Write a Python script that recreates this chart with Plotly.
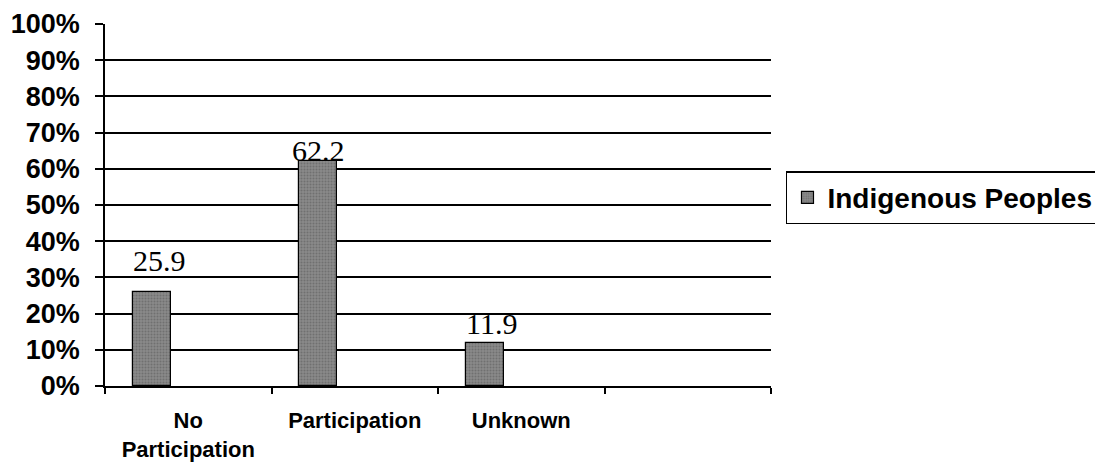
import plotly.graph_objects as go

categories = ["No<br>Participation", "Participation", "Unknown", " "]
values = [25.9, 62.2, 11.9, None]
labels = ["25.9", "62.2", "11.9", ""]
series_name = "Indigenous Peoples"
y_ticks = list(range(0, 101, 10))
y_tick_text = [f"{t}%" for t in y_ticks]

BAR_W = 0.228
BAR_OFF = -0.333
label_shift = [13, -8, 1]
label_xshift = [8, 0, 7]

fig = go.Figure()
fig.add_trace(go.Bar(
    x=categories, y=values, name=series_name,
    width=BAR_W, offset=BAR_OFF,
    marker=dict(color="#7d7d7d", line=dict(color="black", width=1.2),
                pattern=dict(shape=".", fgcolor="#555555", bgcolor="#8a8a8a", size=3, solidity=0.4)),
))

for i, (v, t) in enumerate(zip(values, labels)):
    if v is None:
        continue
    fig.add_annotation(
        x=i + BAR_OFF + BAR_W / 2, y=v, text=t, showarrow=False,
        xref="x", yref="y", yanchor="bottom", xanchor="center",
        yshift=label_shift[i], xshift=label_xshift[i],
        font=dict(family="Liberation Serif, Times New Roman, serif", size=30, color="black"),
    )

# page body has an 8px margin; figure sized to fit the 1103x463 window
fig.update_layout(
    width=1095, height=455,
    margin=dict(l=97, r=332, t=16, b=77, pad=0, autoexpand=False),
    paper_bgcolor="white", plot_bgcolor="white",
    showlegend=True,
    legend=dict(
        x=1.0225, y=0.52, xanchor="left", yanchor="middle",
        bordercolor="black", borderwidth=1.5, bgcolor="white",
        font=dict(family="Liberation Sans, Arial, sans-serif", size=28, color="black", weight="bold"),
        itemwidth=30, tracegroupgap=0,
    ),
    bargap=0,
)
fig.update_xaxes(
    type="category", range=[-0.5, 3.5], automargin=False,
    showline=True, linecolor="black", linewidth=1.5,
    ticks="outside", tickson="boundaries", ticklen=6, tickcolor="black", tickwidth=1.5,
    ticklabelstandoff=14,
    showgrid=False,
    tickfont=dict(family="Liberation Sans, Arial, sans-serif", size=22, color="black", weight="bold"),
)
fig.update_yaxes(
    range=[0, 100], tickvals=y_ticks, ticktext=y_tick_text, automargin=False,
    showline=True, linecolor="black", linewidth=1.5,
    showgrid=True, gridcolor="black", gridwidth=1.5,
    ticks="outside", ticklen=8, tickcolor="black", tickwidth=1.5,
    ticklabelstandoff=10, zeroline=False,
    tickfont=dict(family="Liberation Sans, Arial, sans-serif", size=27, color="black", weight="bold"),
)

fig.write_html("out.html")
